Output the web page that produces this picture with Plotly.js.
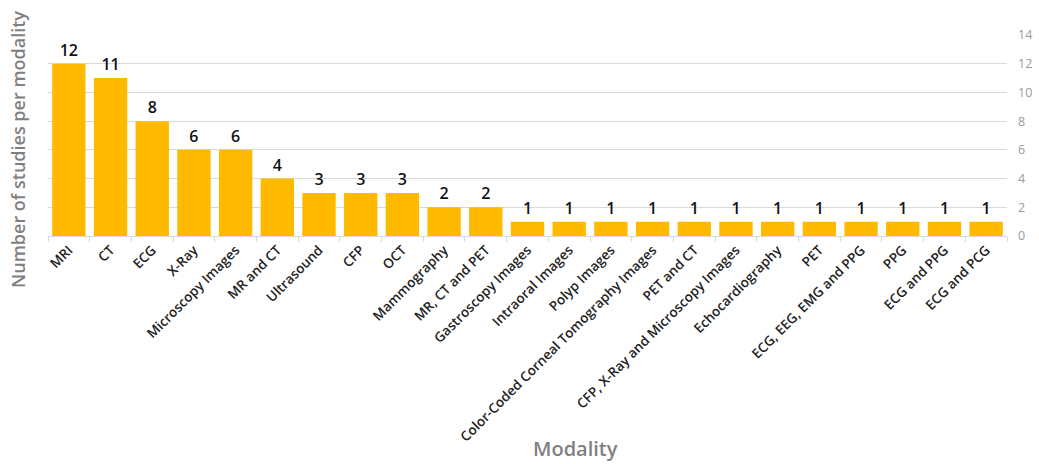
<!DOCTYPE html>
<html><head><meta charset="utf-8">
<script src="https://cdn.plot.ly/plotly-3.0.1.min.js"></script>
<style>html,body{margin:0;padding:0;background:#fff}#c{width:1039px;height:464px}</style>
</head><body><div id="c"></div>
<script>
const categories = ["MRI","CT","ECG","X-Ray","Microscopy Images","MR and CT","Ultrasound","CFP","OCT","Mammography","MR, CT and PET","Gastroscopy Images","Intraoral Images","Polyp Images","Color-Coded Corneal Tomography Images","PET and CT","CFP, X-Ray and Microscopy Images","Echocardiography","PET","ECG, EEG, EMG and PPG","PPG","ECG and PPG","ECG and PCG"];
const counts = [12,11,8,6,6,4,3,3,3,2,2,1,1,1,1,1,1,1,1,1,1,1,1];
const yTicks = [0,2,4,6,8,10,12,14];

const trace = {
  type:'bar', x:categories, y:counts,
  marker:{color:'#FFBA00'},
  text:counts.map(String), textposition:'outside',
  textfont:{family:'Open Sans, sans-serif', size:16, color:'#111', weight:600},
  cliponaxis:false, hoverinfo:'none'
};
const layout = {
  width:1039, height:464,
  margin:{l:48, r:32, t:35, b:228},
  paper_bgcolor:'#fff', plot_bgcolor:'#fff',
  showlegend:false, bargap:0.2,
  font:{family:'Open Sans, sans-serif'},
  xaxis:{type:'category', tickangle:-45, tickson:'boundaries', ticks:'outside', ticklen:5,
    tickcolor:'#d9d9d9', showline:true, linecolor:'#d9d9d9', showgrid:false,
    tickfont:{family:'Open Sans, sans-serif', size:13.5, color:'#222', weight:600}},
  yaxis:{side:'right', range:[0,14], tickvals:yTicks, ticktext:yTicks.map(String),
    showgrid:true, gridcolor:'#d9d9d9', zeroline:false, showline:false, ticks:'',
    ticklabelstandoff:10,
    tickfont:{family:'Open Sans, sans-serif', size:12.5, color:'#9a9a9a'}},
  annotations:[
    {text:'Number of studies per modality', xref:'paper', yref:'paper', x:-0.032, y:0.43,
     xanchor:'center', yanchor:'middle', textangle:-90, showarrow:false,
     font:{family:'Open Sans, sans-serif', size:18, color:'#7f7f7f', weight:600}},
    {text:'Modality', xref:'paper', yref:'paper', x:0.55, y:-1.055,
     xanchor:'center', yanchor:'middle', showarrow:false,
     font:{family:'Open Sans, sans-serif', size:20, color:'#7f7f7f', weight:600}}
  ]
};
Plotly.newPlot('c',[trace],layout,{displayModeBar:false,staticPlot:true});
</script></body></html>
